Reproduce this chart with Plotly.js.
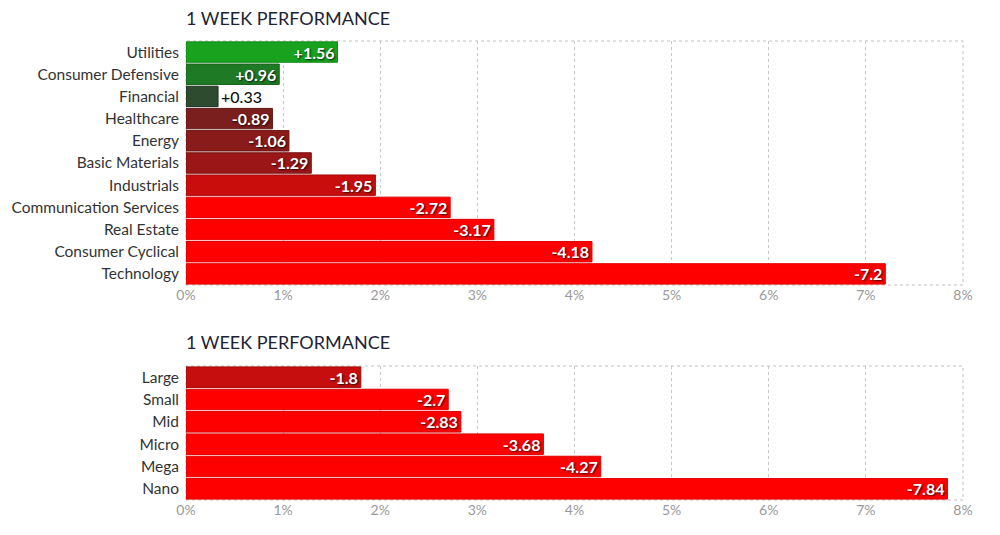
<!DOCTYPE html>
<html>
<head>
<meta charset="utf-8">
<script src="https://cdn.plot.ly/plotly-3.0.1.min.js"></script>
<style>html,body{margin:0;padding:0;background:#fff;}#chart{width:1000px;height:535px;}</style>
</head>
<body>
<div id="chart"></div>
<script>
const sectors = ["Utilities","Consumer Defensive","Financial","Healthcare","Energy","Basic Materials","Industrials","Communication Services","Real Estate","Consumer Cyclical","Technology"];
const sectorValues = [1.56,0.96,0.33,-0.89,-1.06,-1.29,-1.95,-2.72,-3.17,-4.18,-7.2];
const sectorLabels = ["+1.56","+0.96","+0.33","-0.89","-1.06","-1.29","-1.95","-2.72","-3.17","-4.18","-7.2"];
const sectorColors = ["#18a21e","#1f7a25","#2e4b30","#7a1e1e","#8a1b1b","#9b1616","#c90d0d","#ff0000","#ff0000","#ff0000","#ff0000"];
const sectorLines = ["#148a19","#17621c","#1d2e1e","#5e1515","#6c1414","#7a1010","#a80a0a","#e00000","#e00000","#e00000","#e00000"];

const caps = ["Large","Small","Mid","Micro","Mega","Nano"];
const capValues = [-1.8,-2.7,-2.83,-3.68,-4.27,-7.84];
const capLabels = ["-1.8","-2.7","-2.83","-3.68","-4.27","-7.84"];
const capColors = ["#c70e0e","#ff0000","#ff0000","#ff0000","#ff0000","#ff0000"];
const capLines = ["#a50a0a","#e00000","#e00000","#e00000","#e00000","#e00000"];

const xTicks = [0,1,2,3,4,5,6,7,8];
const xTickText = ["0%","1%","2%","3%","4%","5%","6%","7%","8%"];

const FONT = "Lato, 'Open Sans', sans-serif";

function barTrace(cats, vals, labels, colors, lines, xa, ya) {
  return {
    type: "bar", orientation: "h",
    y: cats, x: vals.map(v => Math.abs(v)),
    text: labels,
    textposition: vals.map(v => Math.abs(v) < 0.5 ? "outside" : "inside"),
    insidetextanchor: "end", constraintext: "none",
    insidetextfont: {family: FONT, size: 16, color: "#ffffff", weight: 700, shadow: "1px 1px 2px rgba(0,0,0,0.8)"},
    outsidetextfont: {family: FONT, size: 16, color: "#111111", weight: 500},
    textangle: 0, cliponaxis: false,
    marker: {color: colors, line: {color: lines, width: 1}},
    xaxis: xa, yaxis: ya, hoverinfo: "skip", showlegend: false
  };
}

const data = [
  barTrace(sectors, sectorValues, sectorLabels, sectorColors, sectorLines, "x", "y"),
  barTrace(caps, capValues, capLabels, capColors, capLines, "x2", "y2")
];

const xaxisBase = {
  range: [0, 8], tickvals: xTicks, ticktext: xTickText,
  showgrid: true, gridcolor: "#c8c8c8", griddash: "dot", gridwidth: 1,
  zeroline: false, showline: false, ticks: "",
  tickfont: {family: FONT, size: 14, color: "#999999"}, fixedrange: true
};
const yaxisBase = {
  autorange: "reversed", showgrid: false, zeroline: false, showline: false, ticks: "",
  tickfont: {family: FONT, size: 15.5, color: "#333333"}, ticklabelstandoff: 6, fixedrange: true
};

const layout = {
  width: 1000, height: 535,
  margin: {l: 186, r: 37, t: 0, b: 0},
  paper_bgcolor: "#ffffff", plot_bgcolor: "#ffffff",
  bargap: 0.08,
  xaxis: Object.assign({}, xaxisBase, {domain: [0, 1], anchor: "y"}),
  yaxis: Object.assign({}, yaxisBase, {domain: [0.4673, 0.9234], anchor: "x"}),
  xaxis2: Object.assign({}, xaxisBase, {domain: [0, 1], anchor: "y2"}),
  yaxis2: Object.assign({}, yaxisBase, {domain: [0.0654, 0.3159], anchor: "x2"}),
  shapes: [
    {type: "rect", xref: "x domain", yref: "y domain", x0: 0, x1: 1, y0: 0, y1: 1, line: {color: "#c0c0c0", width: 1, dash: "dot"}, layer: "below"},
    {type: "rect", xref: "x2 domain", yref: "y2 domain", x0: 0, x1: 1, y0: 0, y1: 1, line: {color: "#c0c0c0", width: 1, dash: "dot"}, layer: "below"}
  ],
  annotations: [
    {text: "1 WEEK PERFORMANCE", xref: "paper", yref: "paper", x: 0, y: 1 - 18/535, xanchor: "left", yanchor: "middle", xshift: -2, showarrow: false, font: {family: FONT, size: 18, color: "#1c2434"}},
    {text: "1 WEEK PERFORMANCE", xref: "paper", yref: "paper", x: 0, y: 1 - 342/535, xanchor: "left", yanchor: "middle", xshift: -2, showarrow: false, font: {family: FONT, size: 18, color: "#1c2434"}}
  ]
};

Plotly.newPlot("chart", data, layout, {displayModeBar: false, staticPlot: true});
</script>
</body>
</html>
